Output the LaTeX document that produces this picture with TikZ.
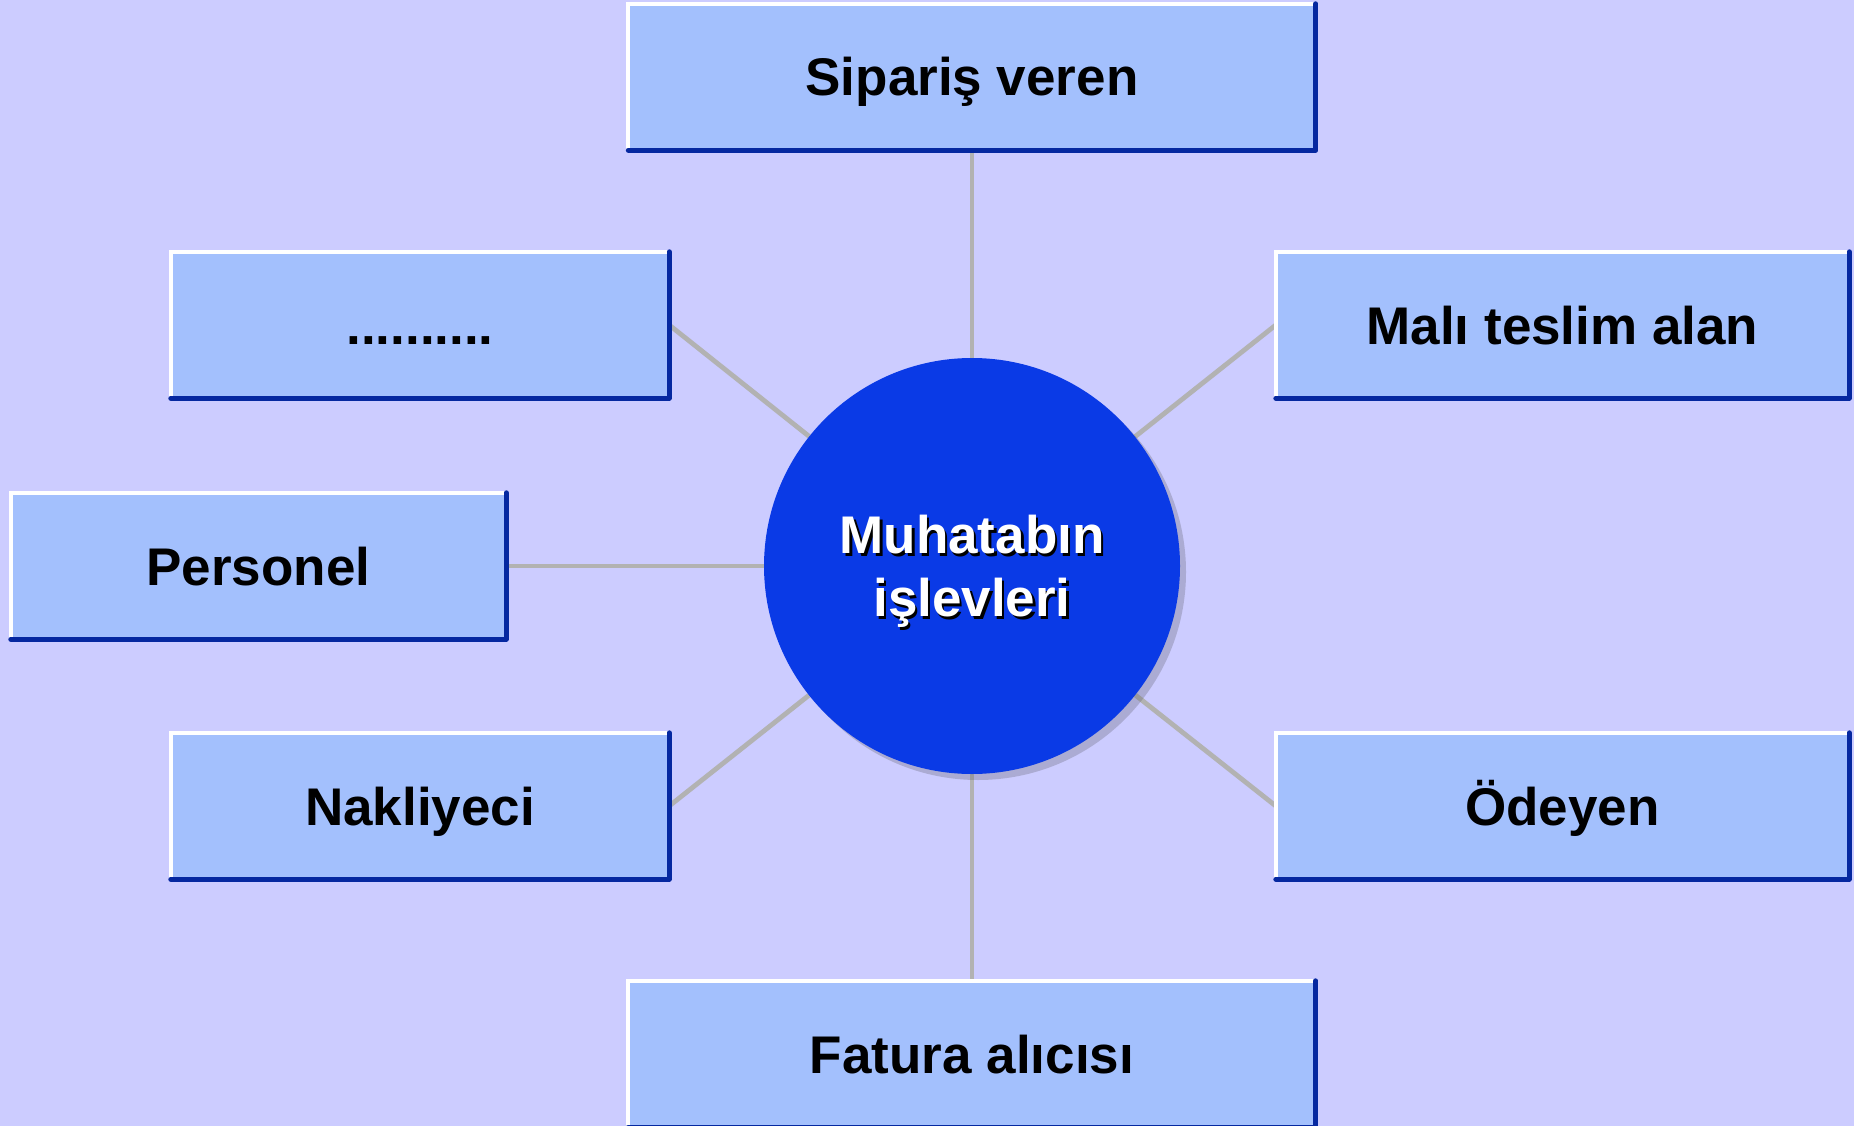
\documentclass[tikz,border=0pt]{standalone}
\usepackage{fontspec}
\setmainfont{Liberation Sans}
\usetikzlibrary{shadows}
\pgfdeclarelayer{bg}
\pgfdeclarelayer{lines}
\pgfsetlayers{bg,lines,main}
\definecolor{bgc}{RGB}{204,204,255}
\definecolor{boxc}{RGB}{163,192,253}
\definecolor{circc}{RGB}{10,58,230}
\definecolor{bordc}{RGB}{5,40,160}
\definecolor{linec}{RGB}{178,178,178}
\definecolor{shadc}{RGB}{96,96,110}
\newcommand{\shd}[1]{\makebox[0pt][l]{\hspace{2.5pt}\raisebox{-2.5pt}{\color{black}#1}}#1}
\begin{document}
\begin{tikzpicture}[x=1pt,y=-1pt,
  fbox/.style={fill=boxc, inner sep=0pt, minimum height=146pt, text height=38pt, text depth=0pt,
    font=\bfseries\fontsize{53}{63}\selectfont},
  conn/.style={draw=linec, line width=4.8pt}]
\begin{pgfonlayer}{bg}
\fill[bgc] (0,0) rectangle (1854,1126);
\end{pgfonlayer}
\useasboundingbox (0,0) rectangle (1854,1126);

\node[fbox, minimum width=687pt] (top) at (972,77) {Sipariş veren};
\node[fbox, minimum width=498pt] (ul) at (420,325) {..........};
\node[fbox, minimum width=495pt] (ml) at (258.5,566) {Personel};
\node[fbox, minimum width=498pt] (ll) at (420,806) {Nakliyeci};
\node[fbox, minimum width=573pt] (ur) at (1562.5,325) {Malı teslim alan};
\node[fbox, minimum width=573pt] (lr) at (1562.5,806) {Ödeyen};
\node[fbox, minimum width=687pt] (bot) at (972,1054) {Fatura alıcısı};

\node[circle, fill=circc, minimum size=416pt, inner sep=0pt, text=white, align=center,
  font=\bfseries\fontsize{53}{63}\selectfont, text depth=0pt,
  drop shadow={shadow xshift=6pt, shadow yshift=-6pt, fill=shadc, opacity=0.3}]
  (c) at (972,566) {\shd{Muhatabın}\\\shd{işlevleri}};

\foreach \n in {top,ul,ml,ll,ur,lr,bot}{
  \draw[white, line width=4pt] (\n.south west) -- (\n.north west) -- (\n.north east);
  \draw[bordc, line width=5pt, line cap=round, line join=round] (\n.north east) -- (\n.south east) -- (\n.south west);
}

\begin{pgfonlayer}{lines}
\draw[conn] (top.south) -- (c);
\draw[conn] (ul.east) -- (c);
\draw[conn] (ml.east) -- (c);
\draw[conn] (ll.east) -- (c);
\draw[conn] (ur.west) -- (c);
\draw[conn] (lr.west) -- (c);
\draw[conn] (bot.north) -- (c);
\end{pgfonlayer}
\end{tikzpicture}
\end{document}
